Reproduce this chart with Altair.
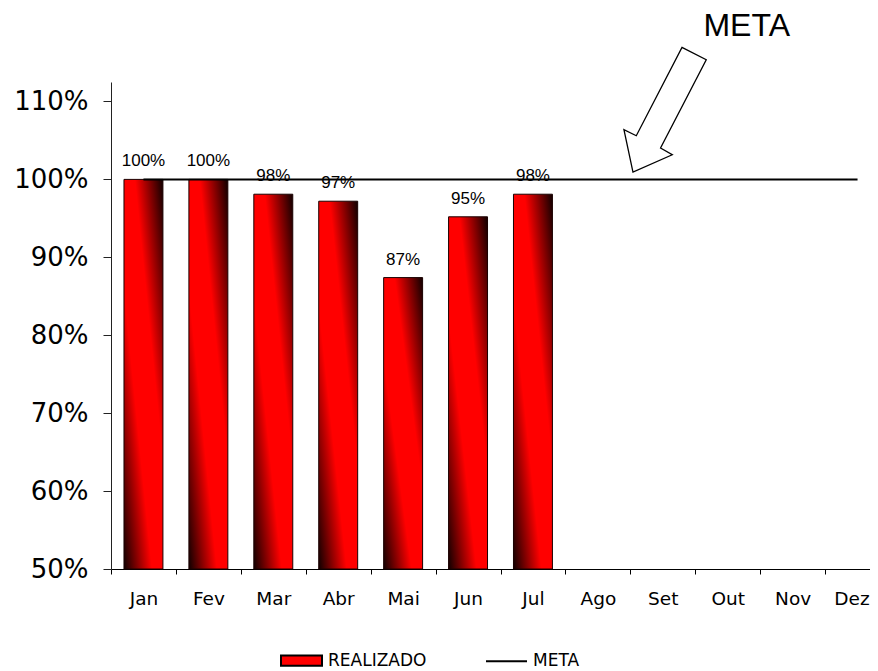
import altair as alt
import pandas as pd

meses = ["Jan", "Fev", "Mar", "Abr", "Mai", "Jun", "Jul", "Ago", "Set", "Out", "Nov", "Dez"]
realizado = [1.00, 1.00, 0.981, 0.972, 0.874, 0.952, 0.981]
meta = [1.0, 1.0, 1.0, 1.0, 1.0, 1.0, 1.0, 1.0, 1.0, 1.0, 1.0, 1.0]
y_ticks = [0.5, 0.6, 0.7, 0.8, 0.9, 1.0, 1.1]
y_domain = [0.5, 1.125]
series = ["REALIZADO", "META"]
series_fill = ["#ff0000", "#000000"]
series_stroke = ["#000000", "#000000"]

df_real = pd.DataFrame({"mes": meses[:len(realizado)], "valor": realizado})
df_meta = pd.DataFrame({"mes": meses, "valor": meta})
df_leg = pd.DataFrame({"serie": series, "mes": [meses[0], meses[0]], "valor": [0.3, 0.3]})
df_titulo = pd.DataFrame({"mes": ["Out"], "valor": [1.184], "texto": ["META"]})
df_seta = pd.DataFrame({"mes": ["Set"], "valor": [1.088]})

rect_path = "M-1,-0.25H1V0.25H-1Z"
line_path = "M-1,0H1"
arrow_path = ("M0.300,-0.991L0.679,-0.798L-0.035,0.581L0.148,0.686"
              "L-0.466,0.956L-0.607,0.295L-0.414,0.389Z")

x = alt.X(
    "mes:N", sort=meses,
    scale=alt.Scale(domain=meses, paddingInner=0, paddingOuter=0, round=False),
    axis=alt.Axis(title=None, labelAngle=0, tickBand="extent", tickSize=5, labelPadding=15,
                  labelFont="DejaVu Sans", labelFontSize=18.5, labelColor="black",
                  labelOffset={"condition": {"test": "datum.value === 'Dez'", "value": -6}, "value": 0},
                  domainColor="black", tickColor="black", grid=False),
)
y = alt.Y(
    "valor:Q",
    scale=alt.Scale(domain=y_domain, nice=False, zero=False),
    axis=alt.Axis(title=None, values=y_ticks, format=".0%", tickSize=8, labelPadding=15,
                  labelFont="DejaVu Sans", labelFontSize=26, labelColor="black",
                  domainColor="#222222", tickColor="#222222", grid=False),
)

grad = alt.Gradient(
    gradient="linear",
    stops=[
        alt.GradientStop(color="#100000", offset=0),
        alt.GradientStop(color="#ff0000", offset=0.36),
        alt.GradientStop(color="#ff0000", offset=0.64),
        alt.GradientStop(color="#100000", offset=1),
    ],
    x1=1, y1=0, x2=0, y2=1,
)

bars = alt.Chart(df_real).mark_bar(
    fill=grad, stroke="#1a0000", strokeWidth=1, width=alt.RelativeBandSize(0.6)
).encode(x=x, y=y, y2=alt.datum(0.5))
line = alt.Chart(df_meta).mark_line(color="black", strokeWidth=2).encode(x=x, y=y)
labels = alt.Chart(df_real).mark_text(
    dy=-13, baseline="alphabetic", font="Liberation Sans", fontSize=17, color="black"
).encode(x=x, y=y, text=alt.Text("valor:Q", format=".0%"))
titulo = alt.Chart(df_titulo).mark_text(
    dx=19, baseline="alphabetic", font="Liberation Sans", fontSize=32, color="black"
).encode(x=x, y=y, text="texto:N")
seta = alt.Chart(df_seta).mark_point(
    shape=arrow_path, size=16384, filled=False, color="black", strokeWidth=1.3, opacity=1
).encode(x=x, y=y)

leg = alt.Legend(
    title=None, orient="none", legendX=169, legendY=557, direction="horizontal",
    symbolSize=1681, symbolStrokeWidth=2, symbolOpacity=1,
    labelFont="DejaVu Sans", labelFontSize=17, labelColor="black", labelOffset=5,
    columnPadding=55,
)
legenda = alt.Chart(df_leg).mark_point(filled=True, clip=True, strokeWidth=2).encode(
    x=x, y=y,
    fill=alt.Fill("serie:N", scale=alt.Scale(domain=series, range=series_fill), legend=leg),
    stroke=alt.Stroke("serie:N", scale=alt.Scale(domain=series, range=series_stroke), legend=leg),
    shape=alt.Shape("serie:N", scale=alt.Scale(domain=series, range=[rect_path, line_path]), legend=leg),
)

chart = alt.layer(bars, line, labels, titulo, seta, legenda).properties(
    width=779, height=487,
    autosize=alt.AutoSizeParams(type="none"),
    padding={"left": 103, "top": 74, "right": -20, "bottom": 102},
).configure_view(strokeWidth=0)

chart.save("out.html", embed_options={"renderer": "svg", "actions": False})
